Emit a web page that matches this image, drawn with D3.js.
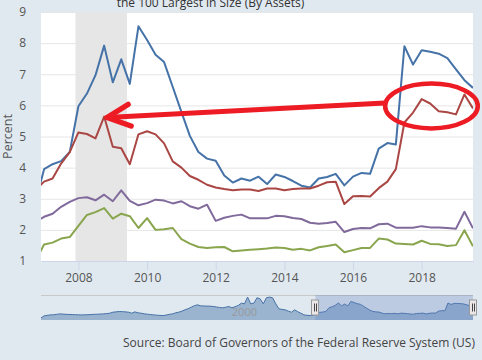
<!DOCTYPE html>
<html>
<head>
<meta charset="utf-8">
<script src="https://cdn.jsdelivr.net/npm/d3@7"></script>
<style>
  body { margin: 0; background: #e1e9f0; }
  svg { display: block; font-family: "Open Sans", sans-serif; }
</style>
</head>
<body>
<div id="main"></div>
<script>
const ctx = { WIDTH: 482, HEIGHT: 360 };
const plot = { left: 41, right: 473, top: 12, bottom: 261 };
const navBox = { top: 295, bottom: 320 };

// quarterly observations, first one is 2006 Q4
const firstQuarter = new Date(2006, 9, 1);
const blueVals = [2.9, 3.95, 4.11, 4.21, 4.50, 5.97, 6.38, 6.97, 7.92, 6.74, 7.48, 6.69, 8.54,
  8.10, 7.63, 7.39, 6.59, 5.79, 5.02, 4.50, 4.29, 4.22, 3.75, 3.52, 3.65,
  3.58, 3.71, 3.47, 3.78, 3.70, 3.57, 3.42, 3.36, 3.65, 3.70, 3.80, 3.43,
  3.71, 3.83, 3.80, 4.61, 4.79, 4.74, 7.90, 7.31, 7.77, 7.72, 7.66, 7.52, 7.16, 6.81, 6.56];
const redVals = [3.29, 3.55, 3.65, 4.13, 4.50, 5.13, 5.08, 4.94, 5.64, 4.67, 4.62, 4.11, 5.07,
  5.17, 5.07, 4.78, 4.20, 4.00, 3.73, 3.61, 3.45, 3.36, 3.31, 3.27, 3.30,
  3.30, 3.25, 3.33, 3.33, 3.27, 3.31, 3.33, 3.33, 3.42, 3.53, 3.55, 2.83,
  3.08, 3.09, 3.07, 3.34, 3.55, 3.95, 5.45, 5.77, 6.20, 6.06, 5.81, 5.78, 5.71, 6.35, 5.90];
const purpleVals = [2.25, 2.42, 2.52, 2.74, 2.90, 3.02, 3.05, 2.95, 3.13, 2.92, 3.27, 2.93, 2.79,
  2.86, 2.97, 2.94, 2.85, 2.92, 2.76, 2.68, 2.81, 2.29, 2.39, 2.45, 2.49,
  2.37, 2.37, 2.37, 2.45, 2.44, 2.38, 2.35, 2.23, 2.20, 2.22, 2.26, 1.93,
  2.03, 2.06, 2.05, 2.18, 2.20, 2.07, 2.07, 2.07, 2.12, 2.08, 2.08, 2.06, 2.04, 2.58, 2.05];
const greenVals = [1.0, 1.53, 1.59, 1.72, 1.77, 2.13, 2.48, 2.57, 2.70, 2.36, 2.52, 2.44, 2.06,
  2.38, 2.00, 2.02, 2.06, 1.70, 1.56, 1.45, 1.42, 1.44, 1.45, 1.31, 1.34,
  1.36, 1.38, 1.40, 1.43, 1.42, 1.36, 1.39, 1.34, 1.44, 1.48, 1.53, 1.28,
  1.35, 1.42, 1.42, 1.72, 1.69, 1.56, 1.55, 1.53, 1.65, 1.55, 1.54, 1.48, 1.51, 1.99, 1.47];

// navigator history of the first series, quarterly from 1985 Q1 to 2006 Q3
const navStart = new Date(1985, 0, 1);
const navHistory = [1.84, 2.66, 2.9, 3.07, 3.1, 3.3, 3.48, 3.4, 3.3, 3.25, 3.21, 3.15,
  3.1, 3.07, 3.1, 3.15, 3.21, 3.3, 3.35, 3.42, 3.48, 3.6, 3.76, 4.17,
  4.3, 4.44, 4.4, 4.3, 4.17, 3.76, 4.3, 3.9, 3.76, 3.5, 3.35, 3.2,
  3.07, 2.95, 2.85, 2.8, 3.0, 3.3, 3.48, 3.9, 4.17, 4.6, 5.12, 5.6,
  6.22, 6.8, 7.17, 6.76, 6.7, 6.65, 6.63, 6.5, 6.3, 6.1, 5.95, 6.2,
  6.49, 5.95, 6.4, 6.9, 7.86, 7.58, 10.32, 7.58, 7.86, 10.04, 9.63, 7.58,
  10.04, 10.32, 10.04, 7.58, 5.53, 5.3, 5.12, 4.6, 4.17, 5.12, 4.4, 3.76,
  3.07, 2.9, 2.8];

const seriesList = [
  { name: "blue", color: "#4572a7", values: blueVals },
  { name: "red", color: "#aa4643", values: redVals },
  { name: "green", color: "#89a54e", values: greenVals },
  { name: "purple", color: "#80699b", values: purpleVals }
];

const yTicks = [1, 2, 3, 4, 5, 6, 7, 8, 9];
const xTickYears = [2008, 2010, 2012, 2014, 2016, 2018];
const recession = [new Date(2007, 11, 1), new Date(2009, 5, 1)];
const viewRange = [new Date(2006, 10, 29), new Date(2019, 6, 1)];
const navRange = [new Date(1985, 0, 1), new Date(2019, 6, 1)];
const navLabelYears = [2000];

// hand drawn annotation, in data units: arrow from tail to tip, ellipse round recent values
const arrowTail = [new Date(2016, 11, 5), 6.08];
const arrowTip = [new Date(2008, 10, 1), 5.61];
const ellipseCenter = [new Date(2018, 3, 15), 5.98];
const ellipseSpan = [1.35, 0.72]; // half width in years, half height in percent

const titleText = "the 100 Largest in Size (By Assets)";
const sourceText = "Source: Board of Governors of the Federal Reserve System (US)";

function quarterDate(start, i) {
  return d3.timeMonth.offset(start, 3 * i);
}

function createViz() {
  const svg = d3.select("#main").append("svg")
    .attr("width", ctx.WIDTH)
    .attr("height", ctx.HEIGHT);

  const x = d3.scaleTime().domain(viewRange).range([plot.left, plot.right]);
  const y = d3.scaleLinear().domain([1, 9]).range([plot.bottom, plot.top]);

  // title, its top is cut by the frame like in the original capture
  svg.append("text")
    .attr("x", 210.5).attr("y", 7)
    .attr("text-anchor", "middle")
    .attr("font-size", "12px")
    .attr("fill", "#333")
    .text(titleText);

  // plot background
  svg.append("rect")
    .attr("x", plot.left).attr("y", plot.top)
    .attr("width", plot.right - plot.left).attr("height", plot.bottom - plot.top)
    .attr("fill", "#ffffff");

  // grid + y labels
  const yAxis = d3.axisLeft(y).tickValues(yTicks)
    .tickSize(-(plot.right - plot.left)).tickPadding(15);
  const yG = svg.append("g")
    .attr("transform", `translate(${plot.left},0)`)
    .call(yAxis);
  yG.select(".domain").remove();
  yG.selectAll(".tick line").attr("stroke", "#e6e6e6");
  yG.selectAll(".tick text")
    .attr("fill", "#555").attr("font-size", "12px")
    .attr("font-family", "Open Sans, sans-serif");

  // recession band
  svg.append("rect")
    .attr("x", x(recession[0])).attr("y", plot.top)
    .attr("width", x(recession[1]) - x(recession[0]))
    .attr("height", plot.bottom - plot.top)
    .attr("fill", "#e6e6e6");

  // x axis
  const xAxis = d3.axisBottom(x)
    .tickValues(xTickYears.map(yr => new Date(yr, 0, 1)))
    .tickFormat(d3.timeFormat("%Y"))
    .tickSizeInner(9).tickSizeOuter(0).tickPadding(3);
  const xG = svg.append("g")
    .attr("transform", `translate(0,${plot.bottom})`)
    .call(xAxis);
  xG.select(".domain").attr("stroke", "#ccd6eb");
  xG.selectAll(".tick line").attr("stroke", "#ccd6eb");
  xG.selectAll(".tick text")
    .attr("fill", "#555").attr("font-size", "12px")
    .attr("font-family", "Open Sans, sans-serif");

  // y title
  svg.append("text")
    .attr("transform", `translate(12,${(plot.top + plot.bottom) / 2}) rotate(-90)`)
    .attr("text-anchor", "middle")
    .attr("font-size", "12.5px")
    .attr("fill", "#555")
    .text("Percent");

  // series, clipped to the plot
  svg.append("clipPath").attr("id", "plotClip")
    .append("rect")
    .attr("x", plot.left).attr("y", plot.top)
    .attr("width", plot.right - plot.left).attr("height", plot.bottom - plot.top);

  const line = d3.line()
    .x((d, i) => x(quarterDate(firstQuarter, i)))
    .y(d => y(d));

  const linesG = svg.append("g").attr("clip-path", "url(#plotClip)");
  seriesList.forEach(s => {
    linesG.append("path")
      .datum(s.values)
      .attr("d", line)
      .attr("fill", "none")
      .attr("stroke", s.color)
      .attr("stroke-width", 2)
      .attr("stroke-linejoin", "round");
  });

  drawNavigator(svg);
  drawAnnotation(svg, x, y);

  svg.append("text")
    .attr("x", 475).attr("y", 347)
    .attr("text-anchor", "end")
    .attr("font-size", "12px")
    .attr("fill", "#444")
    .text(sourceText);
}

function drawNavigator(svg) {
  const navData = navHistory.map((v, i) => [quarterDate(navStart, i), v])
    .concat(blueVals.map((v, i) => [quarterDate(firstQuarter, i), v]));

  const nx = d3.scaleTime().domain(navRange).range([plot.left, plot.right]);
  const [lo, hi] = d3.extent(navData, d => d[1]);
  const pad = (hi - lo) * 0.1;
  const ny = d3.scaleLinear().domain([lo - pad, hi + pad]).range([navBox.bottom, navBox.top]);

  svg.append("line")
    .attr("x1", plot.left).attr("x2", plot.right)
    .attr("y1", navBox.top + 0.5).attr("y2", navBox.top + 0.5)
    .attr("stroke", "#c8c8c8");

  svg.append("path")
    .datum(navData)
    .attr("d", d3.area().x(d => nx(d[0])).y0(navBox.bottom).y1(d => ny(d[1])))
    .attr("fill", "#4572a7").attr("fill-opacity", 0.45);
  svg.append("path")
    .datum(navData)
    .attr("d", d3.line().x(d => nx(d[0])).y(d => ny(d[1])))
    .attr("fill", "none").attr("stroke", "#4572a7").attr("stroke-width", 1);

  // label of the navigator time axis
  navLabelYears.forEach(yr => {
    svg.append("text")
      .attr("x", nx(new Date(yr, 0, 1)) + 3).attr("y", 316)
      .attr("font-size", "11px").attr("fill", "#999")
      .text(yr);
  });

  // selected range
  const x0 = nx(viewRange[0]), x1 = nx(viewRange[1]);
  svg.append("rect")
    .attr("x", x0).attr("y", navBox.top)
    .attr("width", x1 - x0).attr("height", navBox.bottom - navBox.top)
    .attr("fill", "rgba(102,133,194,0.3)");

  [x0, x1].forEach(hx => {
    const h = svg.append("g").attr("transform", `translate(${Math.round(hx)},${(navBox.top + navBox.bottom) / 2})`);
    h.append("rect")
      .attr("x", -3.5).attr("y", -7.5).attr("width", 7).attr("height", 15)
      .attr("fill", "#ebe7e8").attr("stroke", "#999").attr("stroke-width", 1);
    [-1, 1].forEach(dx => {
      h.append("line")
        .attr("x1", dx + 0.5).attr("x2", dx + 0.5).attr("y1", -4).attr("y2", 4)
        .attr("stroke", "#444");
    });
  });
}

function drawAnnotation(svg, x, y) {
  const red = "#ed1c24";
  const g = svg.append("g")
    .attr("fill", "none").attr("stroke", red)
    .attr("stroke-linecap", "round").attr("stroke-linejoin", "round");

  const cx = x(ellipseCenter[0]), cy = y(ellipseCenter[1]);
  const rx = x(d3.timeDay.offset(ellipseCenter[0], Math.round(ellipseSpan[0] * 365))) - cx;
  const ry = cy - y(ellipseCenter[1] + ellipseSpan[1]);
  g.append("ellipse")
    .attr("cx", cx).attr("cy", cy).attr("rx", rx).attr("ry", ry)
    .attr("stroke-width", 4.5);

  const tx = x(arrowTip[0]), ty = y(arrowTip[1]);
  g.append("line")
    .attr("x1", x(arrowTail[0])).attr("y1", y(arrowTail[1]))
    .attr("x2", tx).attr("y2", ty)
    .attr("stroke-width", 5);
  g.append("path")
    .attr("d", `M${tx + 21},${ty - 13} L${tx},${ty} L${tx + 24},${ty + 8.5}`)
    .attr("stroke-width", 5.5);
}

createViz();
</script>
</body>
</html>
